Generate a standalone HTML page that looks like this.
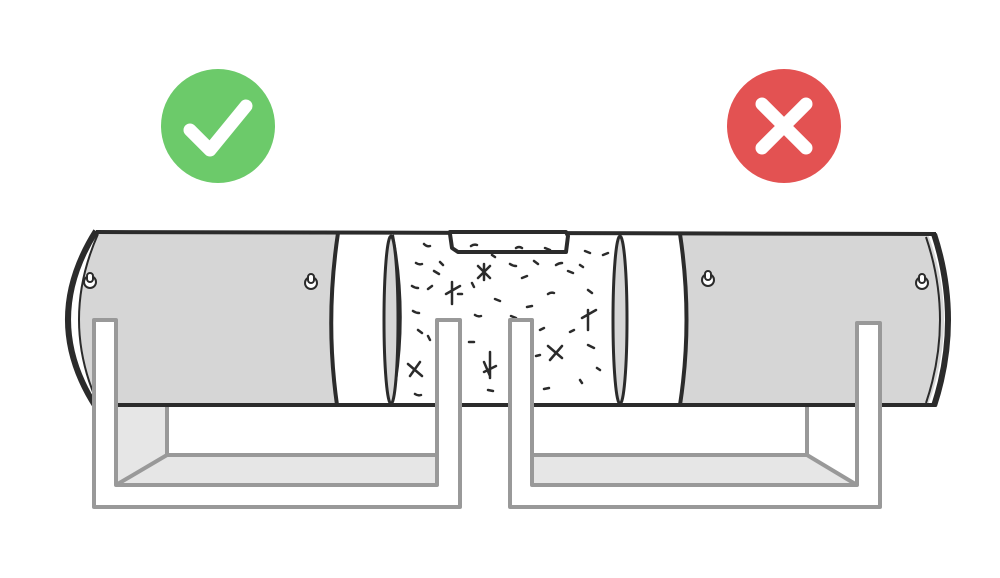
<!DOCTYPE html>
<html><head><style>html,body{margin:0;padding:0;background:#fff;width:1000px;height:578px;overflow:hidden}</style></head>
<body>
<svg width="1000" height="578" viewBox="0 0 1000 578" xmlns="http://www.w3.org/2000/svg">
<circle cx="218" cy="126" r="57" fill="#6cca6a"/>
<path d="M190 130 L210 150 L246 106" fill="none" stroke="#fff" stroke-width="13" stroke-linecap="round" stroke-linejoin="round"/>
<circle cx="784" cy="126" r="57" fill="#e35252"/>
<path d="M762 104 L806 148 M806 104 L762 148" stroke="#fff" stroke-width="13" stroke-linecap="round"/>

<g stroke="#999" stroke-width="4" stroke-linejoin="round">
<path d="M116 405 L167 405 L167 455 L437 455 L437 485 L116 485 Z" fill="#e6e6e6" stroke="none"/>
<path d="M167 405 L167 455 L116 485 M167 455 L437 455" fill="none"/>
<path d="M532 455 L807 455 L857 485 L532 485 Z" fill="#e6e6e6" stroke="none"/>
<path d="M807 405 L807 455 L857 485 M532 455 L807 455" fill="none"/>
</g>

<g stroke="#2b2b2b" stroke-width="4" stroke-linejoin="round">
<path d="M98 233 L338 233 Q325 320 337 405 L98 405 Q60 320 98 233 Z" fill="#d6d6d6" stroke="none"/>
<path d="M680 234 L928 234 Q960 320 928 405 L680 405 Q693 320 680 234 Z" fill="#d6d6d6" stroke="none"/>
<rect x="338" y="233" width="342" height="172" fill="#fff" stroke="none"/>
<path d="M338 233 Q325 320 337 405 L680 405 Q693 320 680 234" fill="#fff" stroke="none"/>
<path d="M96 232 L936 234 M96 405 L936 405" fill="none"/>
<path d="M338 233 Q325 320 337 405" fill="none"/>
<path d="M392 235 Q408 320 391 404" fill="none"/>
<ellipse cx="391" cy="320" rx="7" ry="84" fill="#d6d6d6" stroke-width="3"/>
<ellipse cx="620" cy="320" rx="7" ry="84" fill="#d6d6d6" stroke-width="3"/>
<path d="M680 234 Q693 320 680 405" fill="none"/>
<path d="M96 231 Q40 320 96 407" fill="none" stroke-width="6"/>
<path d="M98 234 Q60 320 98 404" fill="none" stroke-width="2"/>
<path d="M934 234 Q962 320 934 406" fill="none" stroke-width="6"/>
<path d="M926 237 Q954 320 926 403" fill="none" stroke-width="2"/>
<path d="M450 234 L452 248 L458 252 L566 252 L568 236 L566 232 L450 232 Z" fill="#fff" stroke-width="4"/>
</g>
<g fill="#fff" stroke="#2b2b2b" stroke-width="2">
<g transform="translate(90,282)"><circle r="6"/><rect x="-3" y="-9" width="6" height="9" rx="3"/></g>
<g transform="translate(311,283)"><circle r="6"/><rect x="-3" y="-9" width="6" height="9" rx="3"/></g>
<g transform="translate(708,280)"><circle r="6"/><rect x="-3" y="-9" width="6" height="9" rx="3"/></g>
<g transform="translate(922,283)"><circle r="6"/><rect x="-3" y="-9" width="6" height="9" rx="3"/></g>
</g>
<g stroke="#2b2b2b" stroke-width="2.5" fill="none" stroke-linecap="round">
<path d="M424 244 q3 3 6 2 M416 263 q3 2 6 1 M434 271 l5 3 M412 286 q3 2 6 2 M428 289 l4 -3 M413 311 q3 2 6 2 M418 330 l4 3 M428 336 l2 4 M415 394 q3 2 6 1 M440 262 l3 3 M471 246 q3 -2 6 -1 M492 255 l3 2 M472 283 l2 4 M475 315 q3 2 6 1 M510 264 q3 2 6 2 M516 248 q3 -2 6 0 M522 278 l5 -2 M495 299 l5 2 M458 294 l4 0 M534 261 l4 3 M545 248 l5 2 M556 265 q3 -2 6 -2 M527 307 l5 -1 M568 271 l5 2 M580 265 l3 2 M585 251 l5 2 M603 255 l5 -2 M548 294 q3 -2 6 -1 M588 290 l4 3 M511 316 l5 2 M540 330 l4 -2 M570 332 l4 -2 M588 345 l6 3 M580 380 l2 3 M544 389 l5 -1 M597 368 l3 2 M536 356 l4 -1 M488 390 l5 1 M469 342 l5 0"/>
<path d="M478 266 l12 12 M490 266 l-12 12 M484 264 l0 16 M446 294 l14 -8 M452 282 l0 22 M408 364 l14 12 M420 362 l-10 14 M548 346 l14 12 M562 346 l-12 14 M582 318 l14 -8 M588 310 l0 20 M484 362 l6 14 M490 352 l0 26 M484 372 l12 -6"/>
</g>
<g fill="#fff" stroke="#999" stroke-width="4" stroke-linejoin="round">
<path d="M94 320 L116 320 L116 485 L437 485 L437 320 L460 320 L460 507 L94 507 Z"/>
<path d="M510 320 L532 320 L532 485 L857 485 L857 323 L880 323 L880 507 L510 507 Z"/>
</g>
</svg>
</body></html>
